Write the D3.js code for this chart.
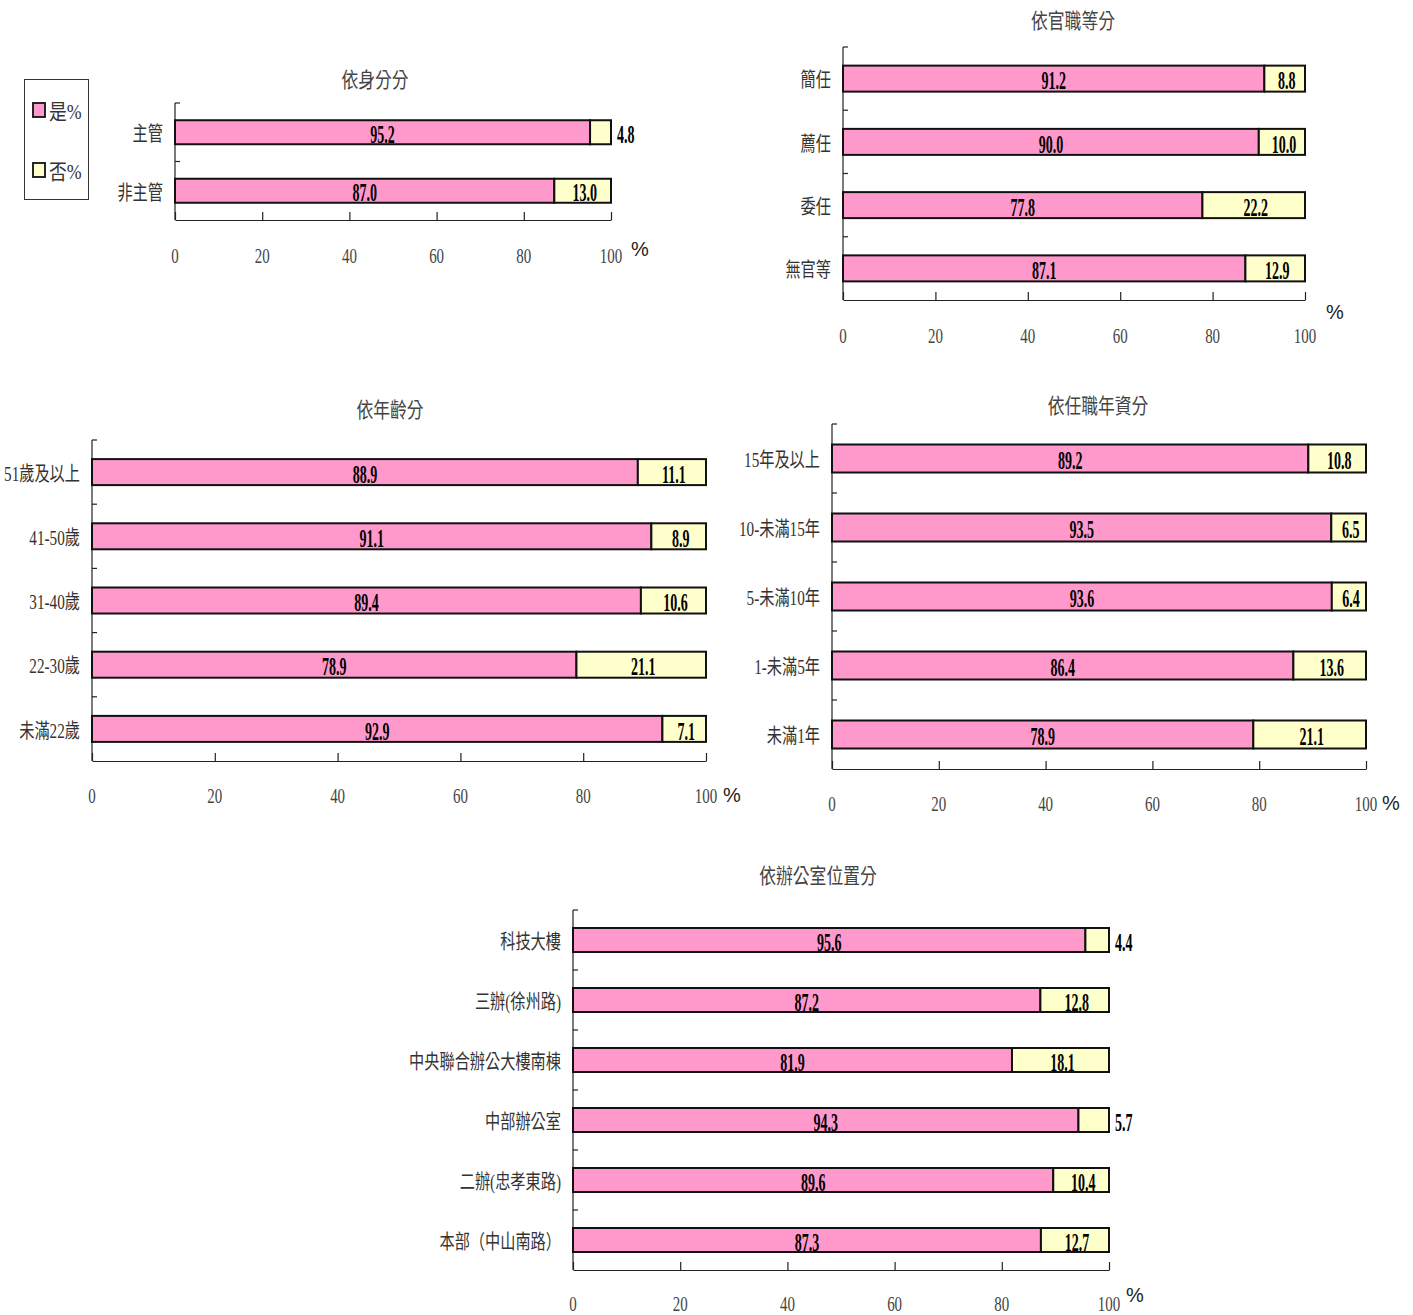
<!DOCTYPE html>
<html>
<head>
<meta charset="utf-8">
<script src="https://cdn.jsdelivr.net/npm/d3@7"></script>
<style>
  body { margin: 0; background: #fff; }
  svg { display: block; }
  .axis path, .axis line { stroke: #222; }
</style>
</head>
<body>
<div id="chart"></div>
<script>
// ---- data ----
const xTicks = [0, 20, 40, 60, 80, 100];

const statusCats = ["主管", "非主管"];
const statusYes = [95.2, 87.0];
const statusNo = [4.8, 13.0];

const gradeCats = ["簡任", "薦任", "委任", "無官等"];
const gradeYes = [91.2, 90.0, 77.8, 87.1];
const gradeNo = [8.8, 10.0, 22.2, 12.9];

const ageCats = ["51歲及以上", "41-50歲", "31-40歲", "22-30歲", "未滿22歲"];
const ageYes = [88.9, 91.1, 89.4, 78.9, 92.9];
const ageNo = [11.1, 8.9, 10.6, 21.1, 7.1];

const tenureCats = ["15年及以上", "10-未滿15年", "5-未滿10年", "1-未滿5年", "未滿1年"];
const tenureYes = [89.2, 93.5, 93.6, 86.4, 78.9];
const tenureNo = [10.8, 6.5, 6.4, 13.6, 21.1];

const officeCats = ["科技大樓", "三辦(徐州路)", "中央聯合辦公大樓南棟", "中部辦公室", "二辦(忠孝東路)", "本部（中山南路）"];
const officeYes = [95.6, 87.2, 81.9, 94.3, 89.6, 87.3];
const officeNo = [4.4, 12.8, 18.1, 5.7, 10.4, 12.7];

const legendLabels = ["是%", "否%"];
const colors = ["#ff99cc", "#ffffcc"];

// ---- layout ----
const W = 1413, H = 1315;
const serif = "'Liberation Serif', 'Times New Roman', 'Noto Sans CJK TC', serif";
const squeeze = 0.72;

const svg = d3.select("#chart").append("svg")
    .attr("width", W)
    .attr("height", H);

// condensed text helper
function txt(g, x, y, s, o) {
    o = o || {};
    return g.append("text")
        .attr("transform", `translate(${x},${y}) scale(${o.sx || squeeze},1)`)
        .attr("text-anchor", o.anchor || "middle")
        .attr("dominant-baseline", "central")
        .attr("font-family", o.font || serif)
        .attr("font-size", o.size || 19)
        .attr("font-weight", o.bold ? "bold" : "normal")
        .attr("fill", o.fill || "#333")
        .text(s);
}

const panels = [
    {title: "依身分分", cats: statusCats, yes: statusYes, no: statusNo,
        x0: 175, x1: 611, top: 103, bottom: 220, barH: 24,
        titlePos: [375, 80], tickY: 255, pctPos: [640, 249]},
    {title: "依官職等分", cats: gradeCats, yes: gradeYes, no: gradeNo,
        x0: 843, x1: 1305, top: 47, bottom: 300, barH: 26,
        titlePos: [1073, 21], tickY: 335, pctPos: [1335, 312]},
    {title: "依年齡分", cats: ageCats, yes: ageYes, no: ageNo,
        x0: 92, x1: 706, top: 440, bottom: 761, barH: 26,
        titlePos: [390, 410], tickY: 795, pctPos: [732, 795]},
    {title: "依任職年資分", cats: tenureCats, yes: tenureYes, no: tenureNo,
        x0: 832, x1: 1366, top: 424, bottom: 769, barH: 28,
        titlePos: [1098, 406], tickY: 803, pctPos: [1391, 803]},
    {title: "依辦公室位置分", cats: officeCats, yes: officeYes, no: officeNo,
        x0: 573, x1: 1109, top: 910, bottom: 1270, barH: 24,
        titlePos: [818, 876], tickY: 1303, pctPos: [1135, 1295]}
];

panels.forEach(p => {
    let g = svg.append("g");

    let x = d3.scaleLinear().domain([0, 100]).range([p.x0, p.x1]);
    let y = d3.scaleBand().domain(p.cats).range([p.top, p.bottom]).padding(0);

    // title
    txt(g, p.titlePos[0], p.titlePos[1], p.title, {size: 21, sx: 0.8, fill: "#444"});

    // y axis line + band ticks (pointing inward)
    g.append("line")
        .attr("x1", p.x0).attr("x2", p.x0)
        .attr("y1", p.top).attr("y2", p.bottom)
        .attr("stroke", "#222").attr("stroke-width", 1.2);
    let bounds = p.cats.map(c => y(c));
    g.selectAll(".ytick").data(bounds).enter().append("line")
        .attr("x1", p.x0).attr("x2", p.x0 + 5)
        .attr("y1", d => d).attr("y2", d => d)
        .attr("stroke", "#222").attr("stroke-width", 1.2);

    // x axis
    let xAxis = d3.axisBottom(x).tickValues(xTicks).tickSizeInner(-8).tickSizeOuter(0).tickFormat("");
    let ax = g.append("g")
        .attr("class", "axis")
        .attr("transform", `translate(0,${p.bottom})`)
        .call(xAxis);
    ax.select(".domain").attr("stroke-width", 1.2);
    ax.selectAll(".tick line").attr("stroke-width", 1.2);

    xTicks.forEach(t => txt(g, x(t), p.tickY, t, {size: 22, sx: 0.68, fill: "#444"}));
    txt(g, p.pctPos[0], p.pctPos[1], "%", {font: "'Liberation Sans', Arial, sans-serif", size: 20, sx: 1, fill: "#222"});

    // category labels
    p.cats.forEach(c => txt(g, p.x0 - 12, y(c) + y.bandwidth() / 2 + 2, c, {anchor: "end", size: 20, sx: 0.76, fill: "#333"}));

    // bars
    let rows = p.cats.map((c, i) => ({cat: c, yes: p.yes[i], no: p.no[i]}));
    let bar = g.selectAll(".row").data(rows).enter().append("g")
        .attr("transform", d => `translate(0,${y(d.cat) + (y.bandwidth() - p.barH) / 2})`);

    bar.append("rect")
        .attr("x", x(0))
        .attr("width", d => x(d.yes) - x(0))
        .attr("height", p.barH)
        .attr("fill", colors[0])
        .attr("stroke", "#111").attr("stroke-width", 2);
    bar.append("rect")
        .attr("x", d => x(d.yes))
        .attr("width", d => x(100) - x(d.yes))
        .attr("height", p.barH)
        .attr("fill", colors[1])
        .attr("stroke", "#111").attr("stroke-width", 2);

    // value labels
    rows.forEach(d => {
        let cy = y(d.cat) + y.bandwidth() / 2 + 2;
        let o = {bold: true, size: 25, sx: 0.56, fill: "#000"};
        txt(g, (x(0) + x(d.yes)) / 2, cy, d.yes.toFixed(1), o);
        if (d.no < 6) {
            txt(g, x(100) + 6, cy, d.no.toFixed(1), Object.assign({}, o, {anchor: "start"}));
        } else {
            txt(g, (x(d.yes) + x(100)) / 2 + 2, cy, d.no.toFixed(1), o);
        }
    });
});

// legend
let lg = svg.append("g");
lg.append("rect")
    .attr("x", 24.5).attr("y", 79.5).attr("width", 64).attr("height", 120)
    .attr("fill", "#fff").attr("stroke", "#333").attr("stroke-width", 1);
legendLabels.forEach((l, i) => {
    let cy = 110 + i * 60;
    lg.append("rect")
        .attr("x", 33).attr("y", cy - 7).attr("width", 12).attr("height", 14)
        .attr("fill", colors[i]).attr("stroke", "#111").attr("stroke-width", 1.8);
    txt(lg, 49, cy + 2, l, {anchor: "start", size: 21, sx: 0.85, fill: "#333"});
});
</script>
</body>
</html>
